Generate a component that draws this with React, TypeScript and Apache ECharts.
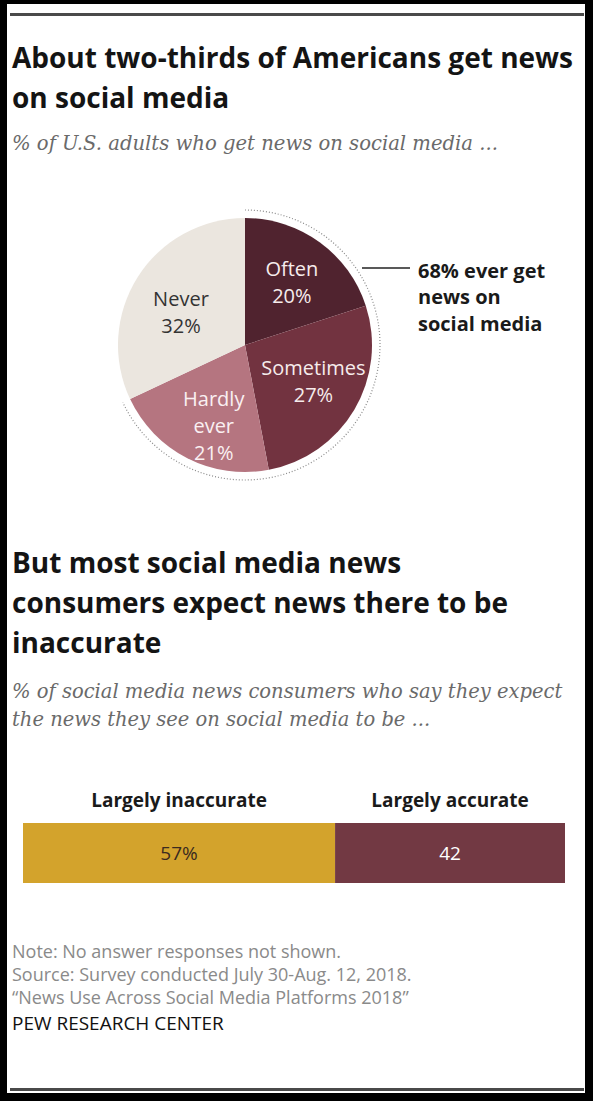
import React, { useEffect, useRef } from 'react';
import * as echarts from 'echarts';

// ---- data ----
const pieCategories = ['Often', 'Sometimes', 'Hardly ever', 'Never'];
const pieValues = [20, 27, 21, 32];
const everCategories = ['Often', 'Sometimes', 'Hardly ever'];

const barCategories = ['Largely inaccurate', 'Largely accurate'];
const barValues = [57, 42];

const title1 = ['About two-thirds of Americans get news', 'on social media'];
const subtitle1 = ['% of U.S. adults who get news on social media ...'];
const title2 = ['But most social media news', 'consumers expect news there to be', 'inaccurate'];
const subtitle2 = [
  '% of social media news consumers who say they expect',
  'the news they see on social media to be ...',
];
const notes = [
  'Note: No answer responses not shown.',
  'Source: Survey conducted July 30-Aug. 12, 2018.',
  '\u201cNews Use Across Social Media Platforms 2018\u201d',
];
const credit = 'PEW RESEARCH CENTER';

// ---- styles ----
const pieColors = ['#50232f', '#723340', '#b57580', '#ebe6df'];
const pieLabelColors = ['#f6ecec', '#f6ecec', '#faf0f2', '#333333'];
const pieLabelNudge = [
  [-4, 7],
  [-6, -8],
  [8, 3],
  [9, 13],
];
const barColors = ['#d3a32c', '#723943'];
const barLabelColors = ['#3a2a20', '#ffffff'];

const SANS = '"Open Sans", Roboto, "Liberation Sans", sans-serif';
const SERIF = '"DejaVu Serif", "Liberation Serif", serif';

const W = 593;
const H = 1101;
const PIE_C = [245, 345];
const PIE_R = 127;
const BAR_GRID = { left: 23, top: 823, width: 542, height: 60 };

function txt(text: string, x: number, y: number, o: any = {}) {
  return {
    type: 'text',
    x,
    y,
    scaleX: o.scaleX || 1,
    silent: true,
    style: {
      text,
      fill: o.fill || '#1a1a1a',
      fontSize: o.fontSize || 16,
      fontFamily: o.fontFamily || SANS,
      fontWeight: o.fontWeight || 'normal',
      fontStyle: o.fontStyle || 'normal',
      textAlign: o.align || 'left',
      textVerticalAlign: 'middle',
      lineHeight: o.lineHeight,
    },
  };
}

export default function App() {
  const ref = useRef<HTMLDivElement>(null);

  useEffect(() => {
    if (!ref.current) return;
    const chart = echarts.init(ref.current, undefined, { renderer: 'svg' });

    const pieTotal = pieValues.reduce((a, b) => a + b, 0);
    const everTotal = pieCategories
      .map((c, i) => (everCategories.includes(c) ? pieValues[i] : 0))
      .reduce((a, b) => a + b, 0);
    const everShare = everTotal / pieTotal;

    const barTotal = barValues.reduce((a, b) => a + b, 0);
    let cum = 0;
    const barLabelX = barValues.map((v) => {
      const x = BAR_GRID.left + (BAR_GRID.width * (cum + v / 2)) / barTotal;
      cum += v;
      return x;
    });

    const graphic: any[] = [
      { type: 'rect', silent: true, shape: { x: 7, y: 4, width: 578, height: 1089 }, style: { fill: '#ffffff' } },
      { type: 'rect', silent: true, shape: { x: 10, y: 13, width: 574, height: 3 }, style: { fill: '#4a4a4a' } },
      { type: 'rect', silent: true, shape: { x: 10, y: 1088, width: 574, height: 3 }, style: { fill: '#4a4a4a' } },
    ];

    title1.forEach((t, i) =>
      graphic.push(txt(t, 12, 57 + i * 40, { fontSize: 28, fontWeight: 'bold', fill: '#141414' }))
    );
    subtitle1.forEach((t, i) =>
      graphic.push(txt(t, 12, 143 + i * 28, { fontSize: 19.6, fontFamily: SERIF, fontStyle: 'italic', fill: '#6a6a6a' }))
    );

    // dotted arc around "ever" slices
    graphic.push({
      type: 'arc',
      silent: true,
      shape: {
        cx: PIE_C[0],
        cy: PIE_C[1],
        r: PIE_R + 8,
        startAngle: -Math.PI / 2,
        endAngle: -Math.PI / 2 + Math.PI * 2 * everShare,
        clockwise: true,
      },
      style: { stroke: '#8a8a8a', lineWidth: 1.2, lineDash: [1, 2], fill: null },
    });
    graphic.push({
      type: 'line',
      silent: true,
      shape: { x1: 362, y1: 268, x2: 410, y2: 268 },
      style: { stroke: '#222', lineWidth: 1.5 },
    });
    [`${everTotal}% ever get`, 'news on', 'social media'].forEach((t, i) =>
      graphic.push(txt(t, 418, 270 + i * 26.5, { fontSize: 20, fontWeight: 'bold', fill: '#1a1a1a' }))
    );

    title2.forEach((t, i) =>
      graphic.push(txt(t, 12, 562 + i * 40, { fontSize: 28, fontWeight: 'bold', fill: '#141414' }))
    );
    subtitle2.forEach((t, i) =>
      graphic.push(txt(t, 12, 691 + i * 28, { fontSize: 19.5, fontFamily: SERIF, fontStyle: 'italic', fill: '#6a6a6a' }))
    );

    barCategories.forEach((c, i) =>
      graphic.push(txt(c, barLabelX[i], 800, { fontSize: 19, fontWeight: 'bold', align: 'center', fill: '#1a1a1a' }))
    );

    notes.forEach((t, i) =>
      graphic.push(txt(t, 12, 951 + i * 23, { fontSize: 18, fill: '#8a8a8a' }))
    );
    graphic.push(txt(credit, 12, 1023, { fontSize: 18, scaleX: 1.055, fill: '#111' }));

    const pieData = pieCategories.map((c, i) => ({
      name: c,
      value: pieValues[i],
      itemStyle: { color: pieColors[i] },
    }));

    const option: any = {
      animation: false,
      backgroundColor: '#000000',
      graphic,
      grid: { ...BAR_GRID },
      xAxis: { type: 'value', min: 0, max: barTotal, show: false },
      yAxis: { type: 'category', data: ['q'], show: false },
      series: [
        {
          type: 'pie',
          center: PIE_C,
          radius: [0, PIE_R],
          startAngle: 90,
          clockwise: true,
          silent: true,
          z: 2,
          label: { show: false },
          labelLine: { show: false },
          data: pieData,
        },
        {
          type: 'pie',
          center: PIE_C,
          radius: [40, PIE_R],
          startAngle: 90,
          clockwise: true,
          silent: true,
          z: 3,
          labelLine: { show: false },
          labelLayout: (p: any) => ({
            dx: pieLabelNudge[p.dataIndex][0],
            dy: pieLabelNudge[p.dataIndex][1],
          }),
          data: pieCategories.map((c, i) => ({
            name: c,
            value: pieValues[i],
            itemStyle: { color: 'rgba(0,0,0,0)' },
            label: {
              show: true,
              position: 'inside',
              color: pieLabelColors[i],
              fontSize: 20,
              lineHeight: 27,
              fontFamily: SANS,
              formatter: () => `${c.replace(' ', '\n')}\n${pieValues[i]}%`,
            },
          })),
        },
        ...barCategories.map((c, i) => ({
          type: 'bar',
          name: c,
          stack: 'total',
          barWidth: '100%',
          silent: true,
          data: [barValues[i]],
          itemStyle: { color: barColors[i] },
          label: {
            show: true,
            position: 'inside',
            color: barLabelColors[i],
            fontSize: 19,
            fontFamily: SANS,
            formatter: () => (i === 0 ? `${barValues[i]}%` : `${barValues[i]}`),
          },
        })),
      ],
    };

    chart.setOption(option);
    return () => chart.dispose();
  }, []);

  return (
    <div
      ref={ref}
      style={{ position: 'absolute', left: 0, top: 0, width: W, height: H }}
    />
  );
}
